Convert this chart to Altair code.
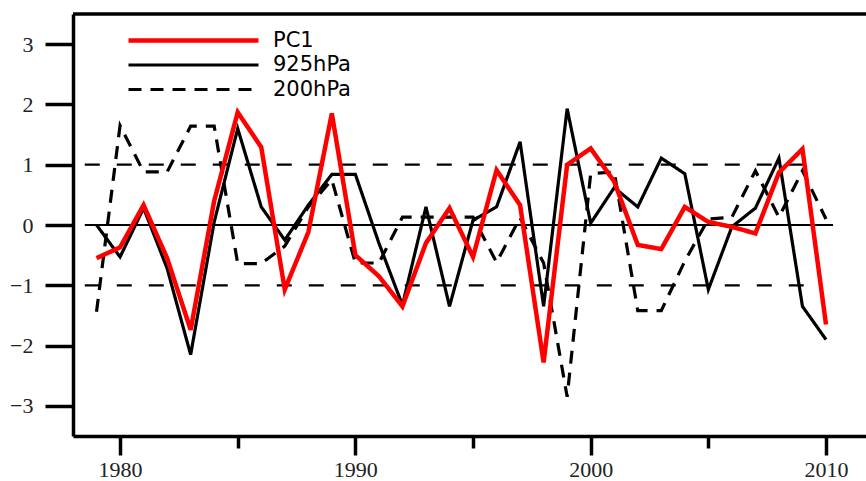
import altair as alt
import pandas as pd

# ---- data ----
years = [1979, 1980, 1981, 1982, 1983, 1984, 1985, 1986, 1987, 1988,
         1989, 1990, 1991, 1992, 1993, 1994, 1995, 1996, 1997, 1998,
         1999, 2000, 2001, 2002, 2003, 2004, 2005, 2006, 2007, 2008,
         2009, 2010]

pc1 = [-0.55, -0.37, 0.33, -0.55, -1.74, 0.40, 1.87, 1.29, -1.07, -0.12,
       1.85, -0.50, -0.85, -1.35, -0.30, 0.28, -0.53, 0.91, 0.33, -2.28,
       1.00, 1.27, 0.72, -0.33, -0.40, 0.30, 0.05, -0.03, -0.14, 0.87,
       1.26, -1.65]

hpa925 = [0.00, -0.53, 0.28, -0.72, -2.15, 0.05, 1.60, 0.30, -0.25, 0.33,
          0.84, 0.84, -0.30, -1.33, 0.30, -1.35, 0.08, 0.30, 1.38, -1.35,
          1.93, 0.03, 0.62, 0.30, 1.11, 0.85, -1.07, -0.03, 0.28, 1.11,
          -1.35, -1.90]

hpa200 = [-1.44, 1.65, 0.88, 0.88, 1.64, 1.64, -0.64, -0.64, -0.35, 0.30,
          0.75, -0.63, -0.63, 0.13, 0.13, 0.13, 0.13, -0.62, 0.12, -0.63,
          -2.85, 0.85, 0.88, -1.42, -1.42, -0.60, 0.10, 0.13, 0.90, 0.13,
          0.90, 0.10]

series_names = ["PC1", "925hPa", "200hPa"]
series_colors = ["#ff0000", "#000000", "#000000"]
series_dash = [[1, 0], [1, 0], [13, 9]]
series_widths = [4.5, 3.2, 3.2]

x_ticks = [1980, 1985, 1990, 1995, 2000, 2005, 2010]
y_ticks = [-3, -2, -1, 0, 1, 2, 3]
x_domain = [1978, 2011.7]
y_domain = [-3.5, 3.5]

zero_y = [0]
zero_start = [1978.5]
zero_end = [2010.3]

band_y = [1, -1]
band_start = [1978.5, 1978.5]
band_end = [2009.65, 2009.65]

frame_top_y = [3.5]

AXIS_FONT = "Liberation Serif"
AXIS_SIZE = 22

# ---- tables ----
rows = []
for name, vals in [("200hPa", hpa200), ("925hPa", hpa925), ("PC1", pc1)]:
    for yr, v in zip(years, vals):
        rows.append({"year": yr, "value": v, "series": name})
df = pd.DataFrame(rows)

zero_df = pd.DataFrame({"y": zero_y, "x": zero_start, "x2": zero_end})
band_df = pd.DataFrame({"y": band_y, "x": band_start, "x2": band_end})
top_df = pd.DataFrame({"y": frame_top_y, "x": [x_domain[0]], "x2": [x_domain[1]]})

x_scale = alt.Scale(domain=x_domain, nice=False, zero=False)
y_scale = alt.Scale(domain=y_domain, nice=False, zero=False)

x_axis = alt.Axis(
    values=x_ticks, format="d",
    labelExpr="datum.value % 10 == 0 ? datum.label : ''",
    tickSize={"condition": {"test": "datum.value % 10 == 0", "value": 19}, "value": 12},
    tickWidth=3.5, tickColor="black",
    domainColor="black", domainWidth=3.5,
    labelFont=AXIS_FONT, labelFontSize=AXIS_SIZE, labelColor="#222222",
    labelPadding=4, grid=False, title=None,
    labelFlush=False, labelOverlap=False,
)
y_axis = alt.Axis(
    values=y_ticks, tickSize=28, tickWidth=3.5, tickColor="black",
    domainColor="black", domainWidth=3.5,
    labelFont=AXIS_FONT, labelFontSize=AXIS_SIZE, labelColor="#222222",
    labelPadding=12, grid=False, title=None, labelFlush=False,
)

band = alt.Chart(band_df).mark_rule(color="black", strokeWidth=2.3, strokeDash=[15, 17]).encode(
    x=alt.X("x:Q", scale=x_scale, axis=x_axis),
    x2="x2:Q",
    y=alt.Y("y:Q", scale=y_scale, axis=y_axis),
)
zero = alt.Chart(zero_df).mark_rule(color="black", strokeWidth=1.8).encode(
    x=alt.X("x:Q", scale=x_scale, axis=x_axis),
    x2="x2:Q",
    y=alt.Y("y:Q", scale=y_scale, axis=y_axis),
)
top = alt.Chart(top_df).mark_rule(color="black", strokeWidth=3.5).encode(
    x=alt.X("x:Q", scale=x_scale, axis=x_axis),
    x2="x2:Q",
    y=alt.Y("y:Q", scale=y_scale, axis=y_axis),
)

legend = alt.Legend(
    title=None, orient="none", legendX=53, legendY=16, padding=0,
    symbolType="stroke", symbolSize=16900, clipHeight=21, rowPadding=2.5,
    labelOffset=12, labelFont="DejaVu Sans", labelFontSize=21, labelColor="black",
)

lines = alt.Chart(df).mark_line(strokeJoin="miter", strokeCap="butt").encode(
    x=alt.X("year:Q", scale=x_scale, axis=x_axis),
    y=alt.Y("value:Q", scale=y_scale, axis=y_axis),
    color=alt.Color("series:N", scale=alt.Scale(domain=series_names, range=series_colors), legend=legend),
    strokeDash=alt.StrokeDash("series:N", scale=alt.Scale(domain=series_names, range=series_dash), legend=legend),
    strokeWidth=alt.StrokeWidth("series:N", scale=alt.Scale(type="ordinal", domain=series_names, range=series_widths), legend=legend),
)

chart = alt.layer(band, zero, top, lines).properties(
    width=793, height=422,
    autosize=alt.AutoSizeParams(type="none"),
    padding={"left": 73, "top": 14, "right": 0, "bottom": 45},
    background="white",
).configure_view(
    stroke=None
).configure_axis(
    labelFont=AXIS_FONT, labelFontSize=AXIS_SIZE, labelColor="#222222"
)

chart.save("out.html", embed_options={"renderer": "svg", "actions": False})
